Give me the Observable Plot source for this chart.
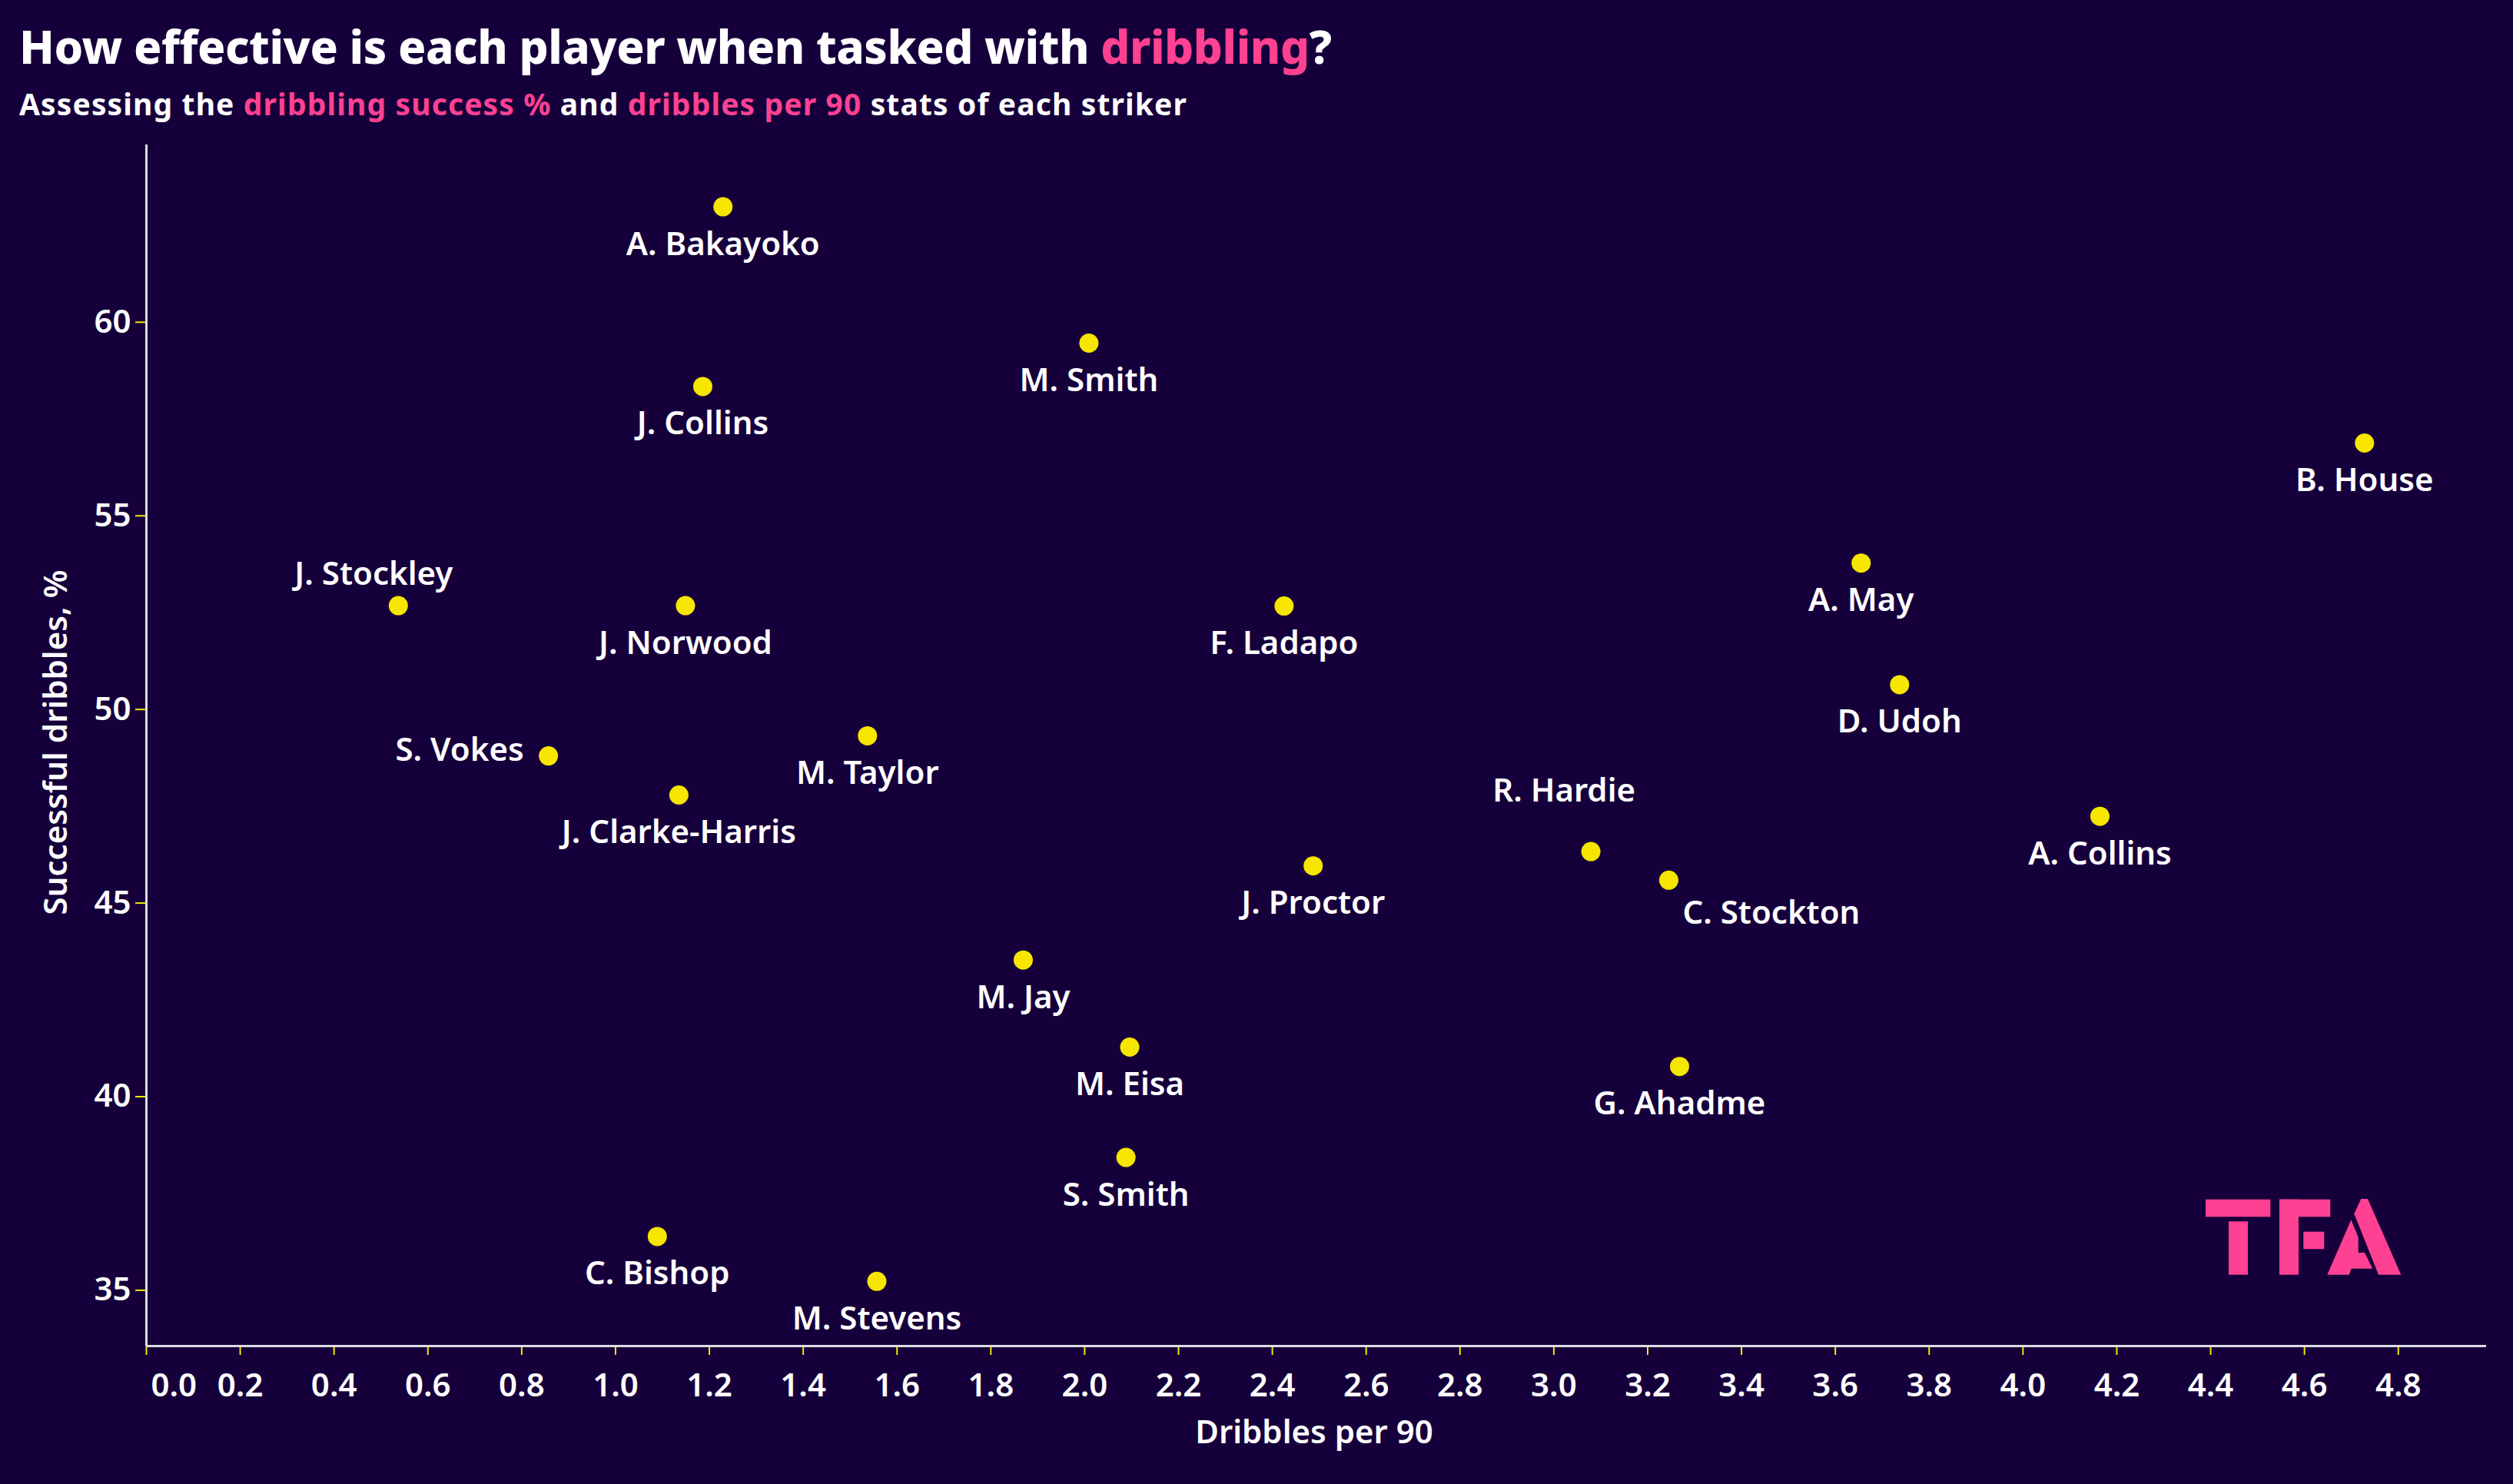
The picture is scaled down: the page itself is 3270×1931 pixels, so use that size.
<!DOCTYPE html>
<html><head><meta charset="utf-8">
<script src="https://cdn.jsdelivr.net/npm/d3@7"></script>
<script src="https://cdn.jsdelivr.net/npm/@observablehq/plot@0.6"></script>
<style>
html,body{margin:0;padding:0;background:#16003b;}
#wrap{position:relative;width:3270px;height:1931px;overflow:hidden;background:#16003b;font-family:"Noto Sans",sans-serif;}
#head{position:absolute;left:0;top:0;}
#chart{position:absolute;left:0;top:180px;width:3270px;}
#logo{position:absolute;left:2870px;top:1560px;}
</style></head><body>
<div id="wrap">
<svg id="head" width="3270" height="180" font-family="Noto Sans, sans-serif">
 <text id="title" x="25" y="83" font-size="60" font-weight="800" fill="#ffffff">How effective is each player when tasked with <tspan fill="#ff4191">dribbling</tspan>?</text>
 <text id="sub" x="25" y="150" font-size="39" font-weight="700" fill="#ffffff">Assessing the <tspan fill="#ff4191">dribbling success %</tspan> and <tspan fill="#ff4191">dribbles per 90</tspan> stats of each striker</text>
</svg>
<div id="chart"></div>
<svg id="logo" width="256" height="100" viewBox="0 0 256 100">
 <g fill="#ff4193">
  <rect x="0" y="0.7" width="84.3" height="22.6"/>
  <rect x="30" y="29.3" width="25" height="69.4"/>
  <rect x="96" y="0.7" width="66.3" height="22.6"/>
  <rect x="96" y="0.7" width="25" height="98"/>
  <rect x="127.3" y="42.7" width="27" height="22.6"/>
  <polygon points="193.3,19.3 202.3,0 211,0 254.3,98.7 225,98.7"/>
  <polygon points="189.3,27.3 158.3,98.7 186.7,98.7 189.7,90.7 217.3,90.7 207,70 198.7,70 198.7,50"/>
 </g>
</svg>
</div>
<script>
// ---- data ----
const players = ["A. Bakayoko","M. Smith","J. Collins","B. House","A. May","J. Stockley","J. Norwood","F. Ladapo","D. Udoh","M. Taylor","S. Vokes","J. Clarke-Harris","A. Collins","R. Hardie","J. Proctor","C. Stockton","M. Jay","M. Eisa","G. Ahadme","S. Smith","C. Bishop","M. Stevens"];
const dribblesPer90 = [1.229,2.009,1.186,4.728,3.655,0.537,1.149,2.425,3.737,1.537,0.857,1.135,4.164,3.079,2.487,3.245,1.869,2.096,3.268,2.088,1.089,1.557];
const successPct = [62.98,59.46,58.34,56.88,53.78,52.68,52.68,52.67,50.64,49.32,48.80,47.79,47.24,46.33,45.96,45.59,43.53,41.28,40.78,38.43,36.39,35.23];
const xTicks = [0,0.2,0.4,0.6,0.8,1.0,1.2,1.4,1.6,1.8,2.0,2.2,2.4,2.6,2.8,3.0,3.2,3.4,3.6,3.8,4.0,4.2,4.4,4.6,4.8];
const yTicks = [35,40,45,50,55,60];
const xTitle = "Dribbles per 90";
const yTitle = "Successful dribbles, %";

const data = players.map((name, i) => ({name, x: dribblesPer90[i], y: successPct[i]}));

// ---- styling ----
const BG = "#16003b", YELLOW = "#f6e600", AXIS = "#dcdce4", FONT = '"Noto Sans", sans-serif';
const special = {
  "J. Stockley": {dx: -32, dy: -41, textAnchor: "middle"},
  "S. Vokes": {dx: -32, dy: -7, textAnchor: "end"},
  "R. Hardie": {dx: -35, dy: -79, textAnchor: "middle"},
  "C. Stockton": {dx: 18, dy: 43, textAnchor: "start"}
};
const labelMarks = [
  Plot.text(data.filter(d => !special[d.name]), {x: "x", y: "y", text: "name", dy: 49, textAnchor: "middle", lineAnchor: "middle", fill: "#fff", fontSize: 42, fontWeight: 600})
];
for (const [name, o] of Object.entries(special)) {
  labelMarks.push(Plot.text(data.filter(d => d.name === name), {x: "x", y: "y", text: "name", dx: o.dx, dy: o.dy, textAnchor: o.textAnchor, lineAnchor: "middle", fill: "#fff", fontSize: 42, fontWeight: 600}));
}

const fmt = d3.format(".1f");
const chart = Plot.plot({
  width: 3270, height: 1751,
  marginLeft: 190, marginRight: 35, marginTop: 8, marginBottom: 180,
  style: {background: "transparent", color: "#fff", fontFamily: FONT, fontSize: "42px", fontWeight: 600, overflow: "visible", maxWidth: "none"},
  x: {domain: [0, 4.988]},
  y: {domain: [33.56, 64.58]},
  marks: [
    Plot.axisX({ticks: xTicks, tickFormat: t => t === 0 ? "" : fmt(t), tickSize: 12, tickPadding: 24, stroke: YELLOW, strokeWidth: 2, fill: "#fff", label: null, fontSize: 42, fontWeight: 600}),
    Plot.text([xTicks[0]], {x: d => d, frameAnchor: "bottom", text: d => fmt(d), textAnchor: "start", lineAnchor: "top", dx: 6, dy: 36, fill: "#fff", fontSize: 42, fontWeight: 600}),
    Plot.axisY({ticks: yTicks, tickSize: 14, tickPadding: 6, stroke: YELLOW, strokeWidth: 2, fill: "#fff", label: null, fontSize: 42, fontWeight: 600}),
    Plot.ruleX([0], {stroke: AXIS, strokeWidth: 3}),
    Plot.ruleY([33.56], {stroke: AXIS, strokeWidth: 3}),
    Plot.text([xTitle], {frameAnchor: "bottom", textAnchor: "middle", lineAnchor: "middle", dy: 113, dx: -3, fill: "#fff", fontSize: 42, fontWeight: 600}),
    Plot.text([yTitle], {frameAnchor: "left", textAnchor: "middle", lineAnchor: "middle", rotate: -90, dx: -117, dy: -4, fill: "#fff", fontSize: 42, fontWeight: 600}),
    Plot.dot(data, {x: "x", y: "y", r: 12.5, fill: YELLOW, stroke: "none"}),
    ...labelMarks
  ]
});
document.getElementById("chart").appendChild(chart);

// fit title widths to reference by letter spacing
function fit(id, target) {
  const el = document.getElementById(id);
  const w = el.getBBox().width;
  const n = el.textContent.length;
  el.setAttribute("letter-spacing", ((target - w) / (n - 1)).toFixed(3));
}
fit("title", 1708);
fit("sub", 1519);
</script>
</body></html>
